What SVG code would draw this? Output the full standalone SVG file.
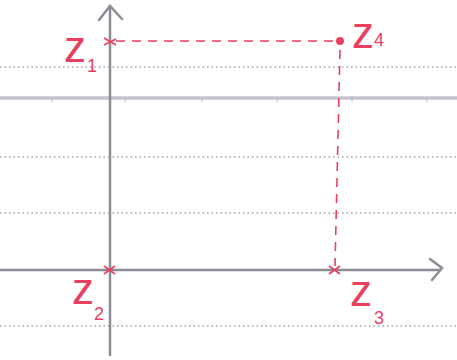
<svg xmlns="http://www.w3.org/2000/svg" width="457" height="360" viewBox="0 0 457 360">
<style>
.dot{stroke:#7a7a88;stroke-width:1.2;stroke-dasharray:1.5 3;fill:none}
.axis{stroke:#8c8c94;stroke-width:2.5;fill:none;stroke-linecap:round}
.red{stroke:#e8405e;fill:none;stroke-width:1.6}
.dash{stroke:#e8405e;fill:none;stroke-width:1.6;stroke-dasharray:9 7}
.lbl{font-family:"Liberation Sans",sans-serif;fill:#e8405e;font-size:44px}
.sub{font-size:18px}
</style>
<rect width="457" height="360" fill="#ffffff"/>
<g id="paper">
<line class="dot" x1="0" y1="67" x2="457" y2="67"/>
<line class="dot" x1="0" y1="157" x2="457" y2="157"/>
<line class="dot" x1="0" y1="213" x2="457" y2="213"/>
<line class="dot" x1="0" y1="326" x2="457" y2="326"/>
<line x1="0" y1="98" x2="457" y2="98" stroke="#c4c4d0" stroke-width="3.5"/>
<path d="M52 98v4M125 98v4M202 98v4M277 98v4M352 98v4M427 98v4" stroke="#b8b8c4" stroke-width="1"/>
</g>
<g id="axes">
<line class="axis" x1="0" y1="270" x2="440" y2="270"/>
<path class="axis" d="M430 259L442 268L432 280"/>
<line class="axis" x1="110" y1="6" x2="110" y2="355"/>
<path class="axis" d="M99 20L110 6L122 19"/>
</g>
<g id="connectors">
<line class="dash" x1="116" y1="41" x2="336" y2="41"/>
<line class="dash" x1="340" y1="50" x2="335" y2="266"/>
</g>
<g id="z1">
<path class="red" d="M104 38l12 7M104 45l12-6" stroke-width="2.4"/>
<text class="lbl" x="64" y="62">z<tspan class="sub" dx="1" dy="10">1</tspan></text>
</g>
<g id="z4">
<circle cx="340" cy="41" r="4" fill="#e8405e"/>
<text class="lbl" x="352" y="48">z<tspan class="sub" dy="-2">4</tspan></text>
</g>
<g id="z2">
<path class="red" d="M104 266l11 8M104 274l11-8" stroke-width="2.4"/>
<text class="lbl" x="72" y="304">z<tspan class="sub" dx="0" dy="16">2</tspan></text>
</g>
<g id="z3">
<path class="red" d="M329 266l11 8M329 274l11-8" stroke-width="2.4"/>
<text class="lbl" x="350" y="306">z<tspan class="sub" dx="2" dy="18">3</tspan></text>
</g>
</svg>
